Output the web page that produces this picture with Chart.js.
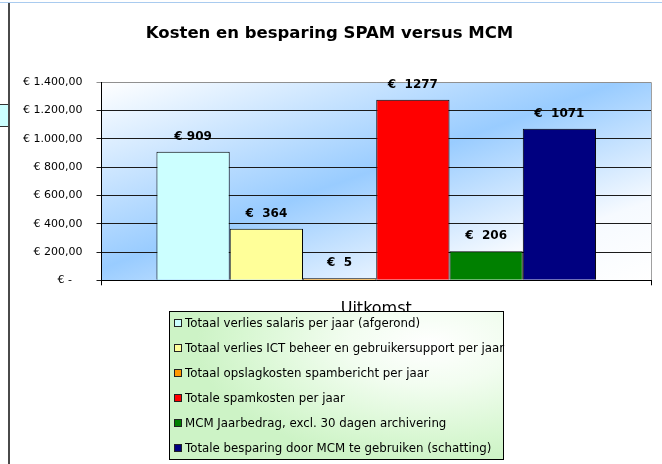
<!DOCTYPE html>
<html>
<head>
<meta charset="utf-8">
<script src="https://cdn.jsdelivr.net/npm/chart.js@4/dist/chart.umd.min.js"></script>
<style>
html,body{margin:0;padding:0;background:#fff;}
#wrap{position:relative;width:662px;height:464px;overflow:hidden;background:#fff;}
#c{position:absolute;left:0;top:0;}
#topline{position:absolute;left:0;top:2px;width:662px;height:1px;background:#A9CBEF;}
#vline{position:absolute;left:8px;top:3px;width:2px;height:461px;background:#4a4a4a;}
#cell{position:absolute;left:0;top:104px;width:8px;height:21px;background:#CCFFFF;border-top:1px solid #333;border-bottom:1px solid #333;}
#legend{position:absolute;left:169px;top:311px;width:333px;height:147px;border:1px solid #000;
  background:radial-gradient(ellipse 70% 80% at 78% 22%, #ffffff 0%, #f2fdf0 35%, #d8f7d2 80%, #cdf3c6 100%);
  font-family:"DejaVu Sans",sans-serif;font-size:11.8px;color:#000;}
.row{position:absolute;left:4px;height:16px;display:flex;align-items:center;white-space:nowrap;}
.sw{width:6px;height:6px;border:1px solid #222;margin-right:3px;flex:none;}
</style>
</head>
<body>
<div id="wrap">
  <canvas id="c" width="662" height="464"></canvas>
  <div id="topline"></div>
  <div id="vline"></div>
  <div id="cell"></div>
  <div id="legend"></div>
</div>
<script>
// ---- data ----
const categories = ['Uitkomst'];
const seriesNames = [
  'Totaal verlies salaris per jaar (afgerond)',
  'Totaal verlies ICT beheer en gebruikersupport per jaar',
  'Totaal opslagkosten spambericht per jaar',
  'Totale spamkosten per jaar',
  'MCM Jaarbedrag, excl. 30 dagen archivering',
  'Totale besparing door MCM te gebruiken (schatting)'
];
const seriesValues = [909, 364, 5, 1277, 206, 1071];
const valueLabels = ['€ 909', '€  364', '€  5', '€  1277', '€  206', '€  1071'];
const seriesColors = ['#CCFFFF', '#FFFF99', '#FF9900', '#FF0000', '#008000', '#000080'];
const yTickLabels = ['€ -   ', '€ 200,00', '€ 400,00', '€ 600,00', '€ 800,00', '€ 1.000,00', '€ 1.200,00', '€ 1.400,00'];
const chartTitle = 'Kosten en besparing SPAM versus MCM';

Chart.defaults.font.family = '"DejaVu Sans", sans-serif';
Chart.defaults.color = '#000';

const plotBg = {
  id: 'plotBg',
  beforeDraw(chart) {
    const {ctx, chartArea: a} = chart;
    const w = a.right - a.left, h = a.bottom - a.top;
    const cx = (a.left + a.right) / 2, cy = (a.top + a.bottom) / 2;
    const k = w * h / (w * w + h * h);
    const g = ctx.createLinearGradient(cx - h * k, cy - w * k, cx + h * k, cy + w * k);
    g.addColorStop(0, '#ffffff');
    g.addColorStop(0.47, '#99CCFF');
    g.addColorStop(0.8, '#f6faff');
    g.addColorStop(1, '#ffffff');
    ctx.save();
    ctx.fillStyle = g;
    ctx.fillRect(a.left, a.top, w, h);
    ctx.strokeStyle = '#a0a0a0';
    ctx.lineWidth = 1;
    ctx.beginPath();
    ctx.moveTo(Math.round(a.left) + 0.5, Math.round(a.top) + 0.5);
    ctx.lineTo(Math.round(a.right) + 0.5, Math.round(a.top) + 0.5);
    ctx.lineTo(Math.round(a.right) + 0.5, Math.round(a.bottom) + 0.5);
    ctx.stroke();
    ctx.restore();
  }
};

const valueLabelPlugin = {
  id: 'valueLabels',
  afterDatasetsDraw(chart) {
    const ctx = chart.ctx;
    ctx.save();
    ctx.font = 'bold 12px "DejaVu Sans", sans-serif';
    ctx.fillStyle = '#000';
    ctx.textAlign = 'center';
    ctx.textBaseline = 'middle';
    chart.data.datasets.forEach((ds, i) => {
      const meta = chart.getDatasetMeta(i);
      meta.data.forEach(bar => {
        ctx.fillText(valueLabels[i], bar.x, bar.y - 15);
      });
    });
    ctx.restore();
  }
};

const htmlLegend = {
  id: 'htmlLegend',
  afterUpdate(chart) {
    const box = document.getElementById('legend');
    box.innerHTML = '';
    chart.data.datasets.forEach((ds, i) => {
      const row = document.createElement('div');
      row.className = 'row';
      row.style.top = (3 + i * 25) + 'px';
      const sw = document.createElement('span');
      sw.className = 'sw';
      sw.style.background = ds.backgroundColor;
      const tx = document.createElement('span');
      tx.textContent = ds.label;
      row.appendChild(sw);
      row.appendChild(tx);
      box.appendChild(row);
    });
  }
};

new Chart(document.getElementById('c'), {
  type: 'bar',
  data: {
    labels: categories,
    datasets: seriesNames.map((name, i) => ({
      label: name,
      data: [seriesValues[i]],
      backgroundColor: seriesColors[i],
      borderColor: '#000',
      borderWidth: 1,
      minBarLength: 2,
      categoryPercentage: 0.8,
      barPercentage: 1.0
    }))
  },
  options: {
    responsive: false,
    animation: false,
    devicePixelRatio: 1,
    layout: { padding: { left: 8, right: 11, top: 0, bottom: 143.7 } },
    plugins: {
      legend: { display: false },
      tooltip: { enabled: false },
      title: {
        display: true,
        text: chartTitle,
        color: '#000',
        font: { size: 16.5, weight: 'bold', lineHeight: 1.2 },
        padding: { top: 24, bottom: 38.5 }
      }
    },
    scales: {
      x: {
        afterFit(s) { s.height = 40; },
        grid: { display: true, drawOnChartArea: false, drawTicks: true, tickLength: 5, color: '#000', offset: true },
        border: { display: true, color: '#000', width: 1 },
        ticks: { font: { size: 16 }, color: '#000', padding: 14 }
      },
      y: {
        min: 0, max: 1400,
        afterFit(s) { s.width = 93.5; },
        grid: {
          color: c => (c.tick && c.tick.value === 1400) ? '#909090' : '#1a1a1a',
          tickLength: 5, drawTicks: true
        },
        border: { display: true, color: '#000', width: 1 },
        ticks: {
          stepSize: 200,
          padding: 14,
          font: { size: 11 },
          color: '#000',
          callback: (v, i) => yTickLabels[i]
        }
      }
    }
  },
  plugins: [plotBg, valueLabelPlugin, htmlLegend]
});
</script>
</body>
</html>
